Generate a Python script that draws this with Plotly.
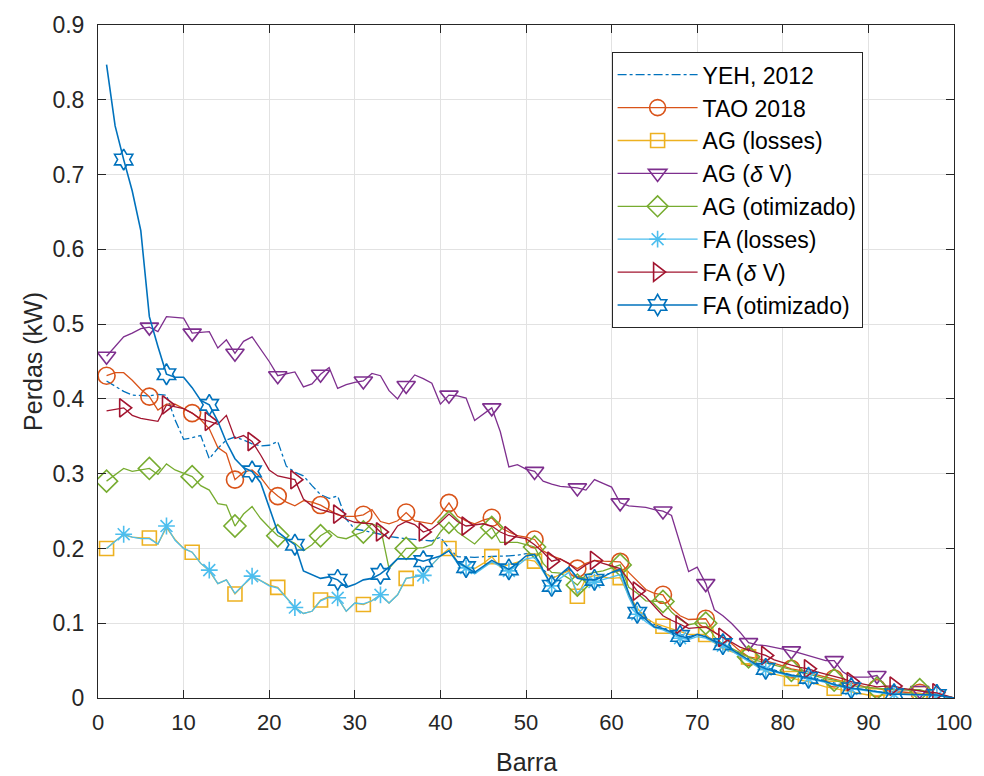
import plotly.graph_objects as go

# Bus index (Barra) 1..100
barra = list(range(1, 101))

# Power losses per bus (kW) for each method
yeh_2012 = [0.424, 0.417, 0.410, 0.405, 0.404, 0.404, 0.406, 0.405, 0.372, 0.346,
            0.348, 0.351, 0.320, 0.334, 0.345, 0.349, 0.345, 0.340, 0.337, 0.338,
            0.343, 0.310, 0.302, 0.297, 0.284, 0.272, 0.267, 0.270, 0.239, 0.226,
            0.224, 0.222, 0.219, 0.216, 0.214, 0.213, 0.212, 0.211, 0.210, 0.215,
            0.200, 0.189, 0.188, 0.188, 0.189, 0.189, 0.190, 0.190, 0.191, 0.193,
            0.193, 0.172, 0.160, 0.165, 0.172, 0.162, 0.160, 0.160, 0.163, 0.168,
            0.170, 0.140, 0.118, 0.108, 0.098, 0.094, 0.089, 0.085, 0.082, 0.085,
            0.083, 0.077, 0.073, 0.066, 0.059, 0.052, 0.046, 0.041, 0.037, 0.034,
            0.031, 0.030, 0.028, 0.026, 0.023, 0.019, 0.016, 0.014, 0.012, 0.010,
            0.008, 0.007, 0.006, 0.005, 0.005, 0.005, 0.004, 0.004, 0.002, 0.000]

tao_2018 = [0.431, 0.435, 0.435, 0.425, 0.413, 0.403, 0.385, 0.393, 0.393, 0.387,
            0.381, 0.372, 0.360, 0.335, 0.327, 0.292, 0.302, 0.305, 0.295, 0.280,
            0.270, 0.262, 0.257, 0.264, 0.262, 0.258, 0.252, 0.245, 0.243, 0.243,
            0.245, 0.252, 0.236, 0.233, 0.237, 0.248, 0.237, 0.235, 0.233, 0.245,
            0.261, 0.243, 0.237, 0.233, 0.238, 0.241, 0.228, 0.222, 0.217, 0.215,
            0.212, 0.197, 0.190, 0.186, 0.180, 0.173, 0.180, 0.184, 0.183, 0.182,
            0.182, 0.168, 0.156, 0.145, 0.140, 0.138, 0.120, 0.110, 0.105, 0.106,
            0.106, 0.088, 0.080, 0.073, 0.063, 0.055, 0.053, 0.050, 0.046, 0.043,
            0.039, 0.037, 0.035, 0.031, 0.028, 0.026, 0.022, 0.019, 0.016, 0.014,
            0.013, 0.010, 0.008, 0.008, 0.007, 0.007, 0.005, 0.004, 0.002, 0.000]

ag_losses = [0.200, 0.210, 0.218, 0.215, 0.214, 0.214, 0.206, 0.228, 0.212, 0.200,
             0.195, 0.180, 0.170, 0.153, 0.158, 0.139, 0.151, 0.162, 0.157, 0.151,
             0.148, 0.134, 0.121, 0.113, 0.116, 0.131, 0.136, 0.134, 0.116, 0.127,
             0.125, 0.130, 0.138, 0.127, 0.138, 0.160, 0.162, 0.164, 0.178, 0.190,
             0.200, 0.182, 0.176, 0.173, 0.180, 0.189, 0.175, 0.178, 0.182, 0.185,
             0.183, 0.170, 0.160, 0.165, 0.170, 0.136, 0.160, 0.164, 0.162, 0.160,
             0.161, 0.138, 0.120, 0.107, 0.100, 0.096, 0.093, 0.089, 0.085, 0.085,
             0.085, 0.074, 0.066, 0.062, 0.058, 0.055, 0.042, 0.036, 0.032, 0.029,
             0.026, 0.024, 0.022, 0.018, 0.015, 0.013, 0.011, 0.009, 0.006, 0.004,
             0.003, 0.004, 0.005, 0.005, 0.006, 0.006, 0.004, 0.003, 0.002, 0.000]

ag_dv = [0.457, 0.470, 0.483, 0.488, 0.494, 0.496, 0.490, 0.510, 0.509, 0.508,
         0.488, 0.489, 0.490, 0.468, 0.479, 0.461, 0.477, 0.483, 0.466, 0.450,
         0.431, 0.434, 0.436, 0.416, 0.420, 0.433, 0.442, 0.414, 0.419, 0.422,
         0.424, 0.434, 0.431, 0.411, 0.400, 0.418, 0.432, 0.427, 0.421, 0.393,
         0.405, 0.404, 0.401, 0.371, 0.380, 0.388, 0.356, 0.309, 0.312, 0.306,
         0.303, 0.290, 0.286, 0.283, 0.282, 0.281, 0.278, 0.292, 0.287, 0.282,
         0.261, 0.257, 0.256, 0.255, 0.252, 0.250, 0.244, 0.205, 0.169, 0.175,
         0.153, 0.118, 0.110, 0.100, 0.088, 0.074, 0.071, 0.070, 0.068, 0.065,
         0.063, 0.060, 0.057, 0.053, 0.050, 0.050, 0.035, 0.028, 0.028, 0.028,
         0.030, 0.015, 0.012, 0.011, 0.011, 0.010, 0.007, 0.005, 0.003, 0.000]

ag_otimizado = [0.290, 0.298, 0.307, 0.303, 0.305, 0.307, 0.299, 0.313, 0.305, 0.300,
                0.296, 0.284, 0.278, 0.260, 0.258, 0.230, 0.246, 0.256, 0.240, 0.228,
                0.217, 0.212, 0.207, 0.197, 0.205, 0.217, 0.224, 0.215, 0.213, 0.218,
                0.222, 0.233, 0.228, 0.173, 0.186, 0.200, 0.200, 0.201, 0.205, 0.222,
                0.235, 0.222, 0.214, 0.206, 0.218, 0.228, 0.208, 0.208, 0.208, 0.205,
                0.202, 0.180, 0.168, 0.167, 0.160, 0.151, 0.165, 0.168, 0.170, 0.174,
                0.178, 0.148, 0.140, 0.130, 0.129, 0.129, 0.115, 0.105, 0.098, 0.100,
                0.100, 0.082, 0.072, 0.066, 0.060, 0.055, 0.050, 0.047, 0.044, 0.041,
                0.037, 0.034, 0.031, 0.028, 0.026, 0.024, 0.020, 0.017, 0.015, 0.014,
                0.013, 0.012, 0.011, 0.011, 0.011, 0.011, 0.008, 0.005, 0.002, 0.000]

fa_losses = [0.200, 0.210, 0.219, 0.215, 0.213, 0.213, 0.206, 0.230, 0.211, 0.200,
             0.195, 0.180, 0.171, 0.153, 0.158, 0.140, 0.151, 0.163, 0.157, 0.150,
             0.147, 0.134, 0.121, 0.113, 0.116, 0.130, 0.135, 0.134, 0.116, 0.127,
             0.126, 0.130, 0.138, 0.127, 0.138, 0.160, 0.162, 0.164, 0.178, 0.190,
             0.197, 0.180, 0.174, 0.166, 0.174, 0.182, 0.176, 0.170, 0.177, 0.186,
             0.188, 0.168, 0.150, 0.160, 0.168, 0.140, 0.152, 0.155, 0.158, 0.162,
             0.165, 0.135, 0.112, 0.102, 0.094, 0.091, 0.086, 0.080, 0.078, 0.082,
             0.080, 0.074, 0.070, 0.063, 0.056, 0.048, 0.042, 0.038, 0.035, 0.032,
             0.029, 0.028, 0.026, 0.024, 0.021, 0.017, 0.014, 0.012, 0.011, 0.009,
             0.007, 0.006, 0.005, 0.005, 0.004, 0.004, 0.004, 0.003, 0.002, 0.000]

fa_dv = [0.384, 0.386, 0.388, 0.378, 0.374, 0.372, 0.370, 0.392, 0.390, 0.387,
         0.381, 0.373, 0.370, 0.366, 0.378, 0.347, 0.351, 0.343, 0.325, 0.305,
         0.297, 0.295, 0.292, 0.266, 0.257, 0.252, 0.249, 0.246, 0.239, 0.235,
         0.234, 0.233, 0.222, 0.213, 0.230, 0.236, 0.232, 0.222, 0.226, 0.235,
         0.246, 0.236, 0.230, 0.232, 0.233, 0.230, 0.222, 0.217, 0.215, 0.213,
         0.205, 0.195, 0.183, 0.186, 0.180, 0.170, 0.178, 0.184, 0.180, 0.176,
         0.173, 0.158, 0.143, 0.135, 0.122, 0.110, 0.104, 0.098, 0.093, 0.094,
         0.095, 0.088, 0.081, 0.075, 0.068, 0.064, 0.060, 0.057, 0.051, 0.047,
         0.044, 0.041, 0.039, 0.035, 0.032, 0.030, 0.026, 0.022, 0.020, 0.017,
         0.015, 0.016, 0.016, 0.013, 0.011, 0.009, 0.008, 0.007, 0.004, 0.000]

fa_otimizado = [0.847, 0.765, 0.720, 0.678, 0.625, 0.510, 0.470, 0.433, 0.429, 0.429,
                0.415, 0.398, 0.392, 0.370, 0.342, 0.320, 0.308, 0.303, 0.288, 0.255,
                0.222, 0.213, 0.205, 0.170, 0.165, 0.160, 0.162, 0.158, 0.148, 0.152,
                0.158, 0.160, 0.166, 0.175, 0.186, 0.186, 0.186, 0.183, 0.186, 0.190,
                0.197, 0.182, 0.175, 0.168, 0.176, 0.184, 0.178, 0.172, 0.180, 0.190,
                0.192, 0.170, 0.150, 0.165, 0.175, 0.160, 0.158, 0.158, 0.162, 0.168,
                0.172, 0.140, 0.114, 0.105, 0.095, 0.093, 0.088, 0.083, 0.080, 0.085,
                0.082, 0.076, 0.072, 0.065, 0.058, 0.050, 0.044, 0.039, 0.036, 0.033,
                0.030, 0.029, 0.027, 0.025, 0.022, 0.018, 0.015, 0.013, 0.012, 0.010,
                0.008, 0.006, 0.005, 0.005, 0.005, 0.005, 0.004, 0.004, 0.002, 0.000]

x_ticks = list(range(0, 101, 10))
y_ticks = [round(0.1 * i, 1) for i in range(10)]

# Markers are shown every 5th bus
MARK_A = set(range(1, 101, 5))   # 1, 6, ..., 96
MARK_B = set(range(3, 101, 5))   # 3, 8, ..., 98

series = [
    # name, values, color, dash, symbol, marker set, line width, marker size
    ("YEH, 2012", yeh_2012, "#0072BD", "dashdot", None, None, 1.3, 0),
    ("TAO 2018", tao_2018, "#D95319", "solid", "circle-open", MARK_A, 1.3, 17),
    ("AG (losses)", ag_losses, "#EDB120", "solid", "square-open", MARK_A, 1.3, 14),
    ("AG (<i>δ</i> V)", ag_dv, "#7E2F8E", "solid", "triangle-down-open", MARK_A, 1.3, 16),
    ("AG (otimizado)", ag_otimizado, "#77AC30", "solid", "diamond-open", MARK_A, 1.3, 17),
    ("FA (losses)", fa_losses, "#4DBEEE", "solid", "asterisk-open", MARK_B, 1.3, 14),
    ("FA (<i>δ</i> V)", fa_dv, "#A2142F", "solid", "triangle-right-open", MARK_B, 1.3, 16),
    ("FA (otimizado)", fa_otimizado, "#0072BD", "solid", "hexagram-open", MARK_B, 1.6, 16),
]

FONT = "Liberation Sans, Arial, sans-serif"

fig = go.Figure()
for i, (name, vals, color, dash, symbol, marks, lw, ms) in enumerate(series):
    grp = f"s{i}"
    if symbol is None:
        fig.add_trace(go.Scatter(
            x=barra, y=vals, mode="lines", name=name, legendgroup=grp,
            line=dict(color=color, width=lw, dash=dash),
        ))
        continue
    # full polyline
    fig.add_trace(go.Scatter(
        x=barra, y=vals, mode="lines", showlegend=False, legendgroup=grp,
        line=dict(color=color, width=lw, dash=dash), hoverinfo="skip",
    ))
    # markers at selected buses (isolated points, so no connecting segments)
    ym = [v if b in marks else None for b, v in zip(barra, vals)]
    fig.add_trace(go.Scatter(
        x=barra, y=ym, mode="lines+markers", name=name, legendgroup=grp,
        connectgaps=False,
        line=dict(color=color, width=lw, dash=dash),
        marker=dict(symbol=symbol, size=ms, color=color,
                    line=dict(color=color, width=1.6)),
    ))

axis_common = dict(
    showgrid=True, gridcolor="#e2e2e2", gridwidth=1,
    showline=True, linecolor="#262626", linewidth=1,
    mirror="ticks", ticks="inside", ticklen=8, tickcolor="#262626",
    zeroline=False,
)

fig.update_xaxes(range=[0, 100], tickvals=x_ticks, ticklabelstandoff=5,
                 tickfont=dict(family=FONT, size=22, color="#262626"), **axis_common)
fig.update_yaxes(range=[0, 0.9], tickvals=y_ticks,
                 ticktext=[("0" if t == 0 else f"{t:g}") for t in y_ticks],
                 ticklabelstandoff=8,
                 tickfont=dict(family=FONT, size=23, color="#262626"), **axis_common)

fig.update_layout(
    width=984, height=776,
    margin=dict(l=98, r=24, t=16, b=78),
    paper_bgcolor="white", plot_bgcolor="white",
    font=dict(family=FONT, size=22, color="#262626"),
    showlegend=True,
    legend=dict(
        x=0.6, y=0.9595, xanchor="left", yanchor="top",
        bgcolor="white", bordercolor="#262626", borderwidth=1,
        font=dict(family=FONT, size=23, color="#000000"),
        itemwidth=80, traceorder="grouped", tracegroupgap=0,
    ),
    annotations=[
        dict(text="Barra", xref="paper", yref="paper", x=0.5, y=-0.0953,
             xanchor="center", yanchor="middle", showarrow=False,
             font=dict(family=FONT, size=25, color="#262626")),
        dict(text="Perdas (kW)", xref="paper", yref="paper", x=-0.0766, y=0.5,
             xanchor="center", yanchor="middle", textangle=-90, showarrow=False,
             font=dict(family=FONT, size=25, color="#262626")),
    ],
)

fig.write_html("out.html")
